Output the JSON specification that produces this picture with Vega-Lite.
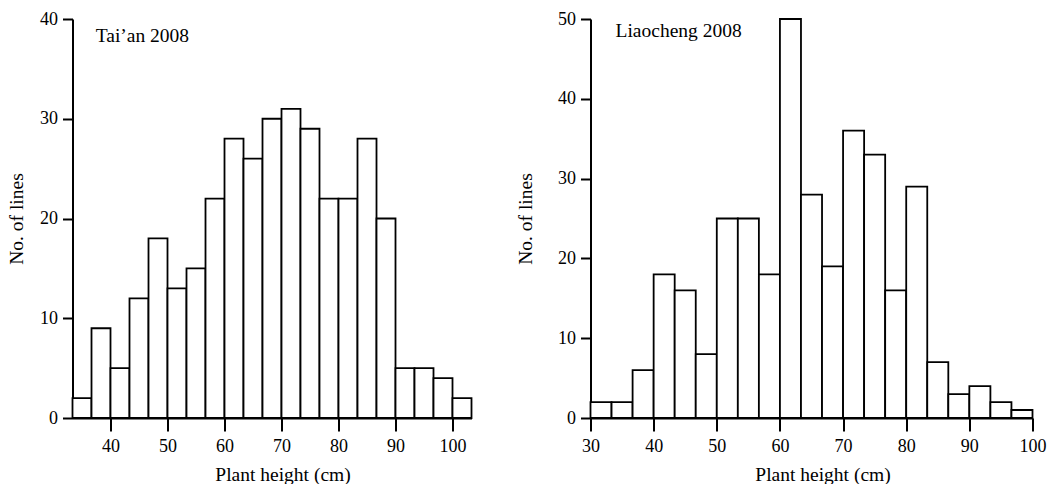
{
  "$schema": "https://vega.github.io/schema/vega-lite/v6.json",
  "padding": {"left": 5.5, "top": 10, "right": 0, "bottom": 0},
  "background": "white",
  "config": {
    "view": {"stroke": null},
    "font": "Liberation Serif",
    "axis": {
      "grid": false,
      "domainColor": "black",
      "domainWidth": 2,
      "tickColor": "black",
      "tickWidth": 2,
      "labelColor": "black",
      "titleColor": "black",
      "labelFont": "Liberation Serif",
      "titleFont": "Liberation Serif",
      "labelFontSize": 18,
      "titleFontSize": 19.5,
      "titleFontWeight": "normal",
      "labelFlush": false,
      "labelOverlap": false
    }
  },
  "datasets": {
    "taian": [
      {"start": 33.333, "end": 36.667, "count": 2},
      {"start": 36.667, "end": 40, "count": 9},
      {"start": 40, "end": 43.333, "count": 5},
      {"start": 43.333, "end": 46.667, "count": 12},
      {"start": 46.667, "end": 50, "count": 18},
      {"start": 50, "end": 53.333, "count": 13},
      {"start": 53.333, "end": 56.667, "count": 15},
      {"start": 56.667, "end": 60, "count": 22},
      {"start": 60, "end": 63.333, "count": 28},
      {"start": 63.333, "end": 66.667, "count": 26},
      {"start": 66.667, "end": 70, "count": 30},
      {"start": 70, "end": 73.333, "count": 31},
      {"start": 73.333, "end": 76.667, "count": 29},
      {"start": 76.667, "end": 80, "count": 22},
      {"start": 80, "end": 83.333, "count": 22},
      {"start": 83.333, "end": 86.667, "count": 28},
      {"start": 86.667, "end": 90, "count": 20},
      {"start": 90, "end": 93.333, "count": 5},
      {"start": 93.333, "end": 96.667, "count": 5},
      {"start": 96.667, "end": 100, "count": 4},
      {"start": 100, "end": 103.333, "count": 2}
    ],
    "liaocheng": [
      {"start": 30, "end": 33.333, "count": 2},
      {"start": 33.333, "end": 36.667, "count": 2},
      {"start": 36.667, "end": 40, "count": 6},
      {"start": 40, "end": 43.333, "count": 18},
      {"start": 43.333, "end": 46.667, "count": 16},
      {"start": 46.667, "end": 50, "count": 8},
      {"start": 50, "end": 53.333, "count": 25},
      {"start": 53.333, "end": 56.667, "count": 25},
      {"start": 56.667, "end": 60, "count": 18},
      {"start": 60, "end": 63.333, "count": 50},
      {"start": 63.333, "end": 66.667, "count": 28},
      {"start": 66.667, "end": 70, "count": 19},
      {"start": 70, "end": 73.333, "count": 36},
      {"start": 73.333, "end": 76.667, "count": 33},
      {"start": 76.667, "end": 80, "count": 16},
      {"start": 80, "end": 83.333, "count": 29},
      {"start": 83.333, "end": 86.667, "count": 7},
      {"start": 86.667, "end": 90, "count": 3},
      {"start": 90, "end": 93.333, "count": 4},
      {"start": 93.333, "end": 96.667, "count": 2},
      {"start": 96.667, "end": 100, "count": 1}
    ]
  },
  "spacing": 43,
  "hconcat": [
    {
      "width": 399,
      "height": 399,
      "layer": [
        {
          "data": {"name": "taian"},
          "mark": {"type": "bar", "fill": "white", "stroke": "black", "strokeWidth": 1.8},
          "encoding": {
            "x": {
              "field": "start", "type": "quantitative",
              "scale": {"domain": [33.333, 103.333], "nice": false, "zero": false},
              "axis": {"values": [40, 50, 60, 70, 80, 90, 100], "tickSize": 13, "labelPadding": 6, "titlePadding": 10, "title": "Plant height (cm)", "titleX": 210}
            },
            "x2": {"field": "end"},
            "y": {
              "field": "count", "type": "quantitative",
              "scale": {"domain": [0, 40], "nice": false},
              "axis": {"values": [0, 10, 20, 30, 40], "tickSize": 10, "labelPadding": 5, "titlePadding": 13.5, "title": "No. of lines"}
            },
            "y2": {"datum": 0}
          }
        },
        {
          "data": {"values": [{"label": "Tai’an 2008"}]},
          "mark": {"type": "text", "align": "left", "baseline": "alphabetic", "fontSize": 19.5, "font": "Liberation Serif", "color": "black"},
          "encoding": {
            "x": {"datum": 37.4, "type": "quantitative"},
            "y": {"datum": 37.7, "type": "quantitative"},
            "text": {"field": "label"}
          }
        }
      ]
    },
    {
      "width": 442,
      "height": 399,
      "layer": [
        {
          "data": {"name": "liaocheng"},
          "mark": {"type": "bar", "fill": "white", "stroke": "black", "strokeWidth": 1.8},
          "encoding": {
            "x": {
              "field": "start", "type": "quantitative",
              "scale": {"domain": [30, 100], "nice": false, "zero": false},
              "axis": {"values": [30, 40, 50, 60, 70, 80, 90, 100], "tickSize": 13, "labelPadding": 6, "titlePadding": 10, "title": "Plant height (cm)", "titleX": 232}
            },
            "x2": {"field": "end"},
            "y": {
              "field": "count", "type": "quantitative",
              "scale": {"domain": [0, 50], "nice": false},
              "axis": {"values": [0, 10, 20, 30, 40, 50], "tickSize": 10, "labelPadding": 5, "titlePadding": 22, "title": "No. of lines"}
            },
            "y2": {"datum": 0}
          }
        },
        {
          "data": {"values": [{"label": "Liaocheng 2008"}]},
          "mark": {"type": "text", "align": "left", "baseline": "alphabetic", "fontSize": 19.5, "font": "Liberation Serif", "color": "black"},
          "encoding": {
            "x": {"datum": 33.96, "type": "quantitative"},
            "y": {"datum": 47.8, "type": "quantitative"},
            "text": {"field": "label"}
          }
        }
      ]
    }
  ]
}
